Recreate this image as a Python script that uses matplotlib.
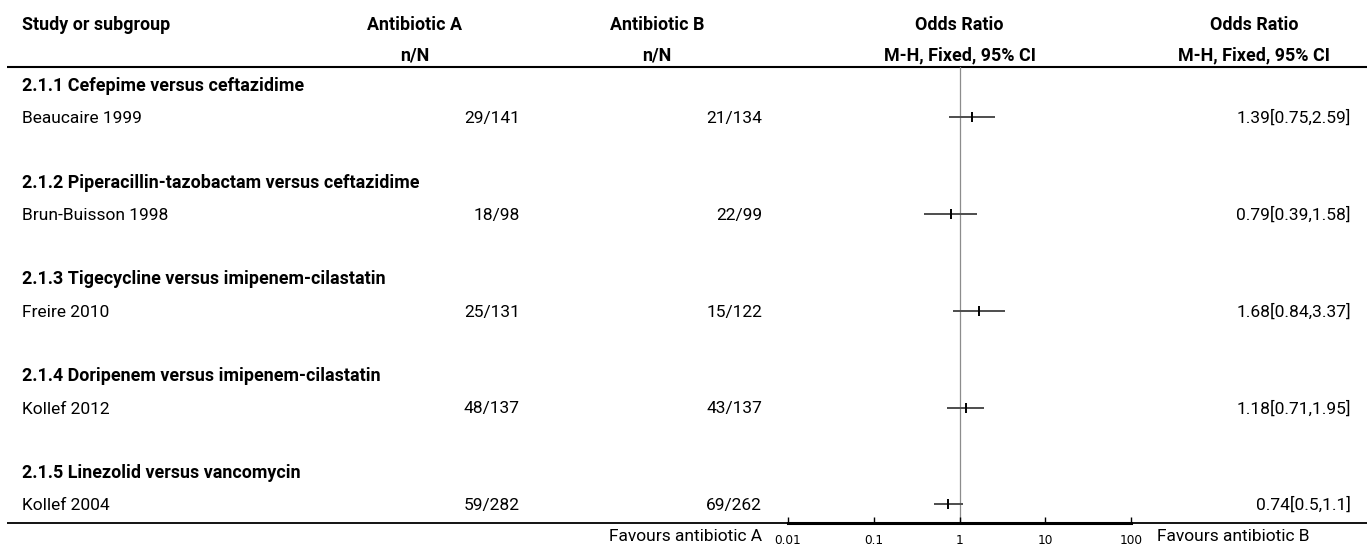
import matplotlib
matplotlib.use("Agg")
import matplotlib.pyplot as plt

# ---------------- data ----------------
group_titles = [
    "2.1.1 Cefepime versus ceftazidime",
    "2.1.2 Piperacillin-tazobactam versus ceftazidime",
    "2.1.3 Tigecycline versus imipenem-cilastatin",
    "2.1.4 Doripenem versus imipenem-cilastatin",
    "2.1.5 Linezolid versus vancomycin",
]
studies = ["Beaucaire 1999", "Brun-Buisson 1998", "Freire 2010", "Kollef 2012", "Kollef 2004"]
a_events = [29, 18, 25, 48, 59]
a_total = [141, 98, 131, 137, 282]
b_events = [21, 22, 15, 43, 69]
b_total = [134, 99, 122, 137, 262]
or_est = [1.39, 0.79, 1.68, 1.18, 0.74]
or_lo = [0.75, 0.39, 0.84, 0.71, 0.5]
or_hi = [2.59, 1.58, 3.37, 1.95, 1.1]
tick_vals = [0.01, 0.1, 1, 10, 100]
tick_labels = ["0.01", "0.1", "1", "10", "100"]
header1 = ["Study or subgroup", "Antibiotic A", "Antibiotic B", "Odds Ratio", "Odds Ratio"]
header2 = ["", "n/N", "n/N", "M-H, Fixed, 95% CI", "M-H, Fixed, 95% CI"]
favours_left = "Favours antibiotic A"
favours_right = "Favours antibiotic B"

# ---------------- layout (pixels) ----------------
W, H, DPI = 1370, 552, 100
FONT = "Roboto"
row0, pitch = 85.0, 32.25
head_line_y, bottom_line_y = 67.0, 522.6
ax_x0, ax_x1 = 788.0, 1131.0
x_study = 22
x_a_center, x_a_right = 415, 520
x_b_center, x_b_right = 657, 762
x_plot_center = (ax_x0 + ax_x1) / 2
x_or_center, x_or_right = 1254, 1351
x_fav_right = 1157
base_off = 6.0

fig = plt.figure(figsize=(W / DPI, H / DPI), dpi=DPI)
bg = fig.add_axes([0, 0, 1, 1])
bg.set_xlim(0, W)
bg.set_ylim(H, 0)
bg.axis("off")

# calibrate font sizes to the reference text widths
renderer = fig.canvas.get_renderer()
def calib(sample, target_px, weight):
    t = bg.text(0, 0, sample, family=FONT, fontsize=10, fontweight=weight)
    wpx = t.get_window_extent(renderer).width
    t.remove()
    return 10 * target_px / wpx
FS_REG = calib(favours_right, 153, "normal")
FS_BOLD = calib("M-H, Fixed, 95% CI", 151, "bold")

def txt(x, y, s, ha="left", bold=False):
    return bg.text(x, y + base_off, s, ha=ha, va="baseline", family=FONT,
                   fontsize=FS_BOLD if bold else FS_REG,
                   fontweight="bold" if bold else "normal", color="black")

# header
hx = [(x_study, "left"), (x_a_center, "center"), (x_b_center, "center"),
      (x_plot_center, "center"), (x_or_center, "center")]
for (x, ha), h1, h2 in zip(hx, header1, header2):
    txt(x, 24, h1, ha=ha, bold=True)
    if h2:
        txt(x, 54.5, h2, ha=ha, bold=True)

bg.plot([7, 1367], [head_line_y, head_line_y], color="black", lw=1.5, solid_capstyle="butt")
bg.plot([7, 1367], [bottom_line_y, bottom_line_y], color="black", lw=1.3, solid_capstyle="butt")

rows_study = []
for i, g in enumerate(group_titles):
    yg = row0 + pitch * (3 * i)
    ys = row0 + pitch * (3 * i + 1)
    rows_study.append(3 * i + 1)
    txt(x_study, yg, g, bold=True)
    txt(x_study, ys, studies[i])
    txt(x_a_right, ys, f"{a_events[i]}/{a_total[i]}", ha="right")
    txt(x_b_right, ys, f"{b_events[i]}/{b_total[i]}", ha="right")
    txt(x_or_right, ys, f"{or_est[i]:g}[{or_lo[i]:g},{or_hi[i]:g}]", ha="right")

fy = 541 - base_off
txt(x_b_right, fy, favours_left, ha="right")
txt(x_fav_right, fy, favours_right, ha="left")

# forest axes
ybot = (H - bottom_line_y) / H
ytop = (H - head_line_y) / H
ax = fig.add_axes([ax_x0 / W, ybot, (ax_x1 - ax_x0) / W, ytop - ybot])
ax.set_xscale("log")
ax.set_xlim(tick_vals[0], tick_vals[-1])
ax.set_ylim((bottom_line_y - row0) / pitch, (head_line_y - row0) / pitch)
ax.patch.set_alpha(0)
for s in ["top", "left", "right"]:
    ax.spines[s].set_visible(False)
ax.spines["bottom"].set_linewidth(2.2)
ax.set_yticks([])
ax.set_xticks(tick_vals)
ax.set_xticklabels(tick_labels, fontfamily="DejaVu Sans", fontsize=8.7)
ax.minorticks_off()
ax.tick_params(axis="x", direction="in", length=4, width=1, pad=8)
ax.axvline(1, color="#8c8c8c", lw=0.9, zorder=1)
ax.hlines(rows_study, or_lo, or_hi, color="#4d4d4d", lw=1.4, zorder=2)
ax.plot(or_est, rows_study, ls="none", marker="|", ms=7, mew=1.4, color="black", zorder=3)

fig.savefig("out.png", dpi=DPI)
